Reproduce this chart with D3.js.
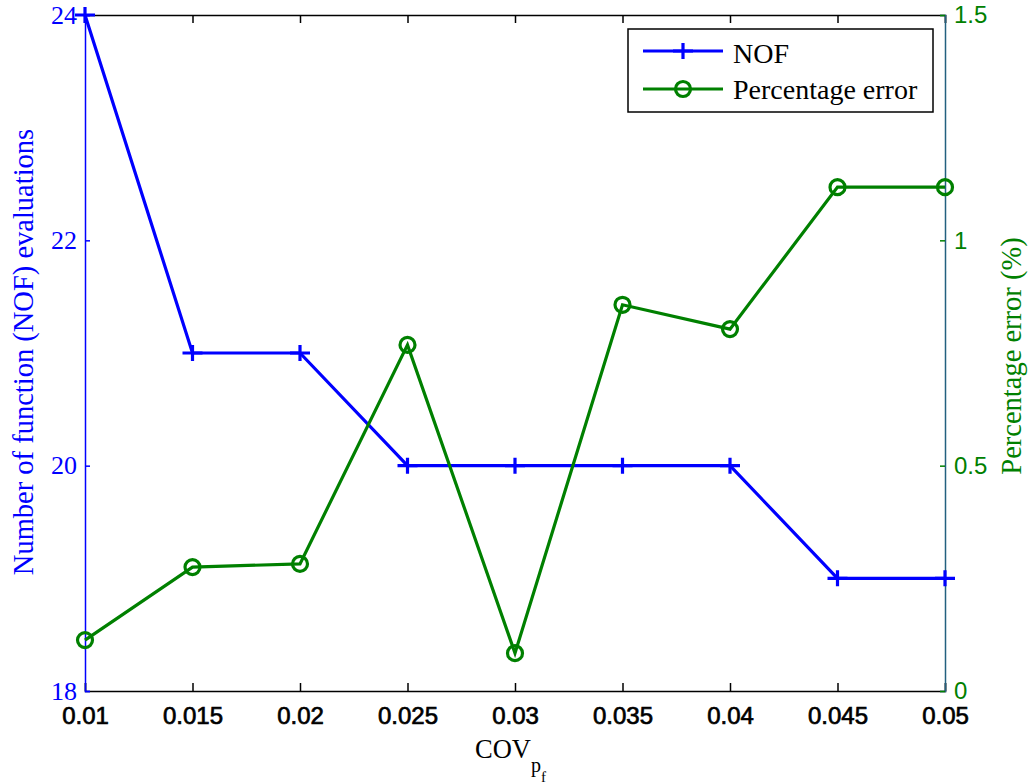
<!DOCTYPE html>
<html>
<head>
<meta charset="utf-8">
<script src="https://cdn.jsdelivr.net/npm/d3@7"></script>
<style>
  body { margin: 0; background: #fff; }
  svg { display: block; }
</style>
</head>
<body>
<svg id="chart" width="1031" height="784"></svg>
<script>
// data
var cov = [0.01, 0.015, 0.02, 0.025, 0.03, 0.035, 0.04, 0.045, 0.05];
var nof = [24, 21, 21, 20, 20, 20, 20, 19, 19];
var pctError = [0.113, 0.275, 0.282, 0.768, 0.084, 0.857, 0.803, 1.118, 1.118];
var xTicks = [0.01, 0.015, 0.02, 0.025, 0.03, 0.035, 0.04, 0.045, 0.05];
var leftTicks = [18, 20, 22, 24];
var rightTicks = [0, 0.5, 1, 1.5];

var serif = "'Liberation Serif', 'Times New Roman', serif";
var sans = "'Liberation Sans', Arial, sans-serif";
var blue = "#0000ff", green = "#008000";

var svg = d3.select("#chart");
var mLeft = 85, mRight = 945, mTop = 15, mBottom = 691;

var x = d3.scaleLinear().domain([0.01, 0.05]).range([mLeft, mRight]);
var yL = d3.scaleLinear().domain([18, 24]).range([mBottom, mTop]);
var yR = d3.scaleLinear().domain([0, 1.5]).range([mBottom, mTop]);

// bottom axis
var gx = svg.append("g").attr("transform", "translate(0," + mBottom + ")")
    .call(d3.axisBottom(x).tickValues(xTicks).tickSize(-8).tickPadding(16)
        .tickFormat(d3.format("")));
gx.select(".domain").attr("stroke", "#000").attr("stroke-width", 1.5);
gx.selectAll(".tick line").attr("stroke", "#000").attr("stroke-width", 1.5);
gx.selectAll(".tick text").attr("font-family", sans).attr("font-size", 24)
    .attr("fill", "#000").attr("stroke", "#000").attr("stroke-width", 0.7);

// top axis
var gt = svg.append("g").attr("transform", "translate(0," + mTop + ")")
    .call(d3.axisTop(x).tickValues(xTicks).tickSize(-8).tickFormat(""));
gt.select(".domain").attr("stroke", "#000").attr("stroke-width", 1.5);
gt.selectAll(".tick line").attr("stroke", "#000").attr("stroke-width", 1.5);

// left axis
var gl = svg.append("g").attr("transform", "translate(" + mLeft + ",0)")
    .call(d3.axisLeft(yL).tickValues(leftTicks).tickSize(-5).tickPadding(8)
        .tickFormat(d3.format("")));
gl.select(".domain").attr("stroke", blue).attr("stroke-width", 1.5);
gl.selectAll(".tick line").attr("stroke", blue).attr("stroke-width", 1.5);
gl.selectAll(".tick text").attr("font-family", serif).attr("font-size", 26).attr("fill", blue);

// right axis
var gr = svg.append("g").attr("transform", "translate(" + mRight + ",0)")
    .call(d3.axisRight(yR).tickValues(rightTicks).tickSize(-5).tickPadding(9)
        .tickFormat(d3.format("")));
gr.select(".domain").attr("stroke", "#23607f").attr("stroke-width", 1.5);
gr.selectAll(".tick line").attr("stroke", green).attr("stroke-width", 1.5);
gr.selectAll(".tick text").attr("font-family", sans).attr("font-size", 24).attr("fill", green);

// axis titles
svg.append("text")
    .attr("transform", "translate(23,352) rotate(-90)")
    .attr("text-anchor", "middle").attr("dominant-baseline", "central")
    .attr("font-family", serif).attr("font-size", 28.5).attr("fill", blue)
    .text("Number of function (NOF) evaluations");

svg.append("text")
    .attr("transform", "translate(1011,356) rotate(-90)")
    .attr("text-anchor", "middle").attr("dominant-baseline", "central")
    .attr("font-family", serif).attr("font-size", 28.5).attr("fill", green)
    .text("Percentage error (%)");

var xt = svg.append("text").attr("x", 475).attr("y", 758)
    .attr("font-family", serif).attr("font-size", 26.5).attr("fill", "#000");
xt.append("tspan").text("COV");
xt.append("tspan").attr("dy", 14).attr("font-size", 20).text("p");
xt.append("tspan").attr("dy", 10).attr("font-size", 15).text("f");

// NOF series
var lineL = d3.line().x(function (d, i) { return x(cov[i]); }).y(function (d) { return yL(d); });
svg.append("path").datum(nof).attr("d", lineL)
    .attr("fill", "none").attr("stroke", blue).attr("stroke-width", 3.2);

function plus(sel, cx, cy) {
    sel.append("path")
        .attr("d", "M" + (cx - 10) + "," + cy + "H" + (cx + 10) + "M" + cx + "," + (cy - 8) + "V" + (cy + 8))
        .attr("stroke", blue).attr("stroke-width", 3.2).attr("fill", "none");
}
var gPlus = svg.append("g");
nof.forEach(function (d, i) { plus(gPlus, x(cov[i]), yL(d)); });

// percentage error series
var lineR = d3.line().x(function (d, i) { return x(cov[i]); }).y(function (d) { return yR(d); });
svg.append("path").datum(pctError).attr("d", lineR)
    .attr("fill", "none").attr("stroke", green).attr("stroke-width", 3.2);

svg.selectAll("circle.pe")
    .data(pctError)
    .enter()
    .append("circle")
    .attr("class", "pe")
    .attr("cx", function (d, i) { return x(cov[i]); })
    .attr("cy", function (d) { return yR(d); })
    .attr("r", 7.5)
    .attr("fill", "none")
    .attr("stroke", green)
    .attr("stroke-width", 3.2);

// legend
var lg = svg.append("g");
lg.append("rect").attr("x", 628).attr("y", 29).attr("width", 305).attr("height", 83)
    .attr("fill", "#fff").attr("stroke", "#000").attr("stroke-width", 1.5);
lg.append("line").attr("x1", 643).attr("x2", 723).attr("y1", 51).attr("y2", 51)
    .attr("stroke", blue).attr("stroke-width", 3.2);
plus(lg, 683, 51);
lg.append("line").attr("x1", 643).attr("x2", 723).attr("y1", 89).attr("y2", 89)
    .attr("stroke", green).attr("stroke-width", 3.2);
lg.append("circle").attr("cx", 683).attr("cy", 89).attr("r", 7.5)
    .attr("fill", "none").attr("stroke", green).attr("stroke-width", 3.2);
lg.append("text").attr("x", 733).attr("y", 63)
    .attr("font-family", serif).attr("font-size", 28).text("NOF");
lg.append("text").attr("x", 733).attr("y", 99)
    .attr("font-family", serif).attr("font-size", 28).text("Percentage error");
</script>
</body>
</html>
